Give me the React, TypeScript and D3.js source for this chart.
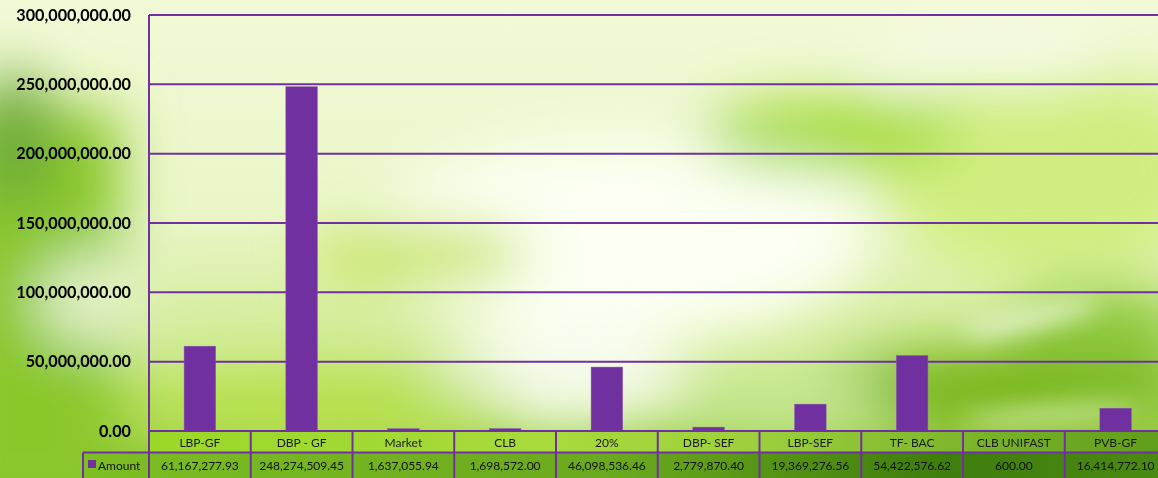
import React from "react";
import * as d3 from "d3";

const categories = ["LBP-GF", "DBP - GF", "Market", "CLB", "20%", "DBP- SEF", "LBP-SEF", "TF- BAC", "CLB UNIFAST", "PVB-GF"];
const amounts = [61167277.93, 248274509.45, 1637055.94, 1698572.0, 46098536.46, 2779870.4, 19369276.56, 54422576.62, 600.0, 16414772.1];
const seriesName = "Amount";
const yTicks = [0, 50000000, 100000000, 150000000, 200000000, 250000000, 300000000];

const W = 1158;
const H = 478;
const PURPLE = "#7030A0";

const fmt = d3.format(",.2f");

export default function App() {
  const left = 149;
  const colW = 101.75;
  const top = 15;
  const zeroY = 431;
  const rowSep = 452.5;
  const rowBottom = 480;
  const keyLeft = 83;

  const x = d3.scaleBand<string>().domain(categories).range([left, left + colW * categories.length]).paddingInner(0).paddingOuter(0);
  const y = d3.scaleLinear().domain([0, 300000000]).range([zeroY, top]);
  const barW = x.bandwidth() * 0.31;

  return (
    <svg width={W} height={H} style={{ position: "absolute", left: 0, top: 0, display: "block" }} fontFamily="Lato, 'Noto Sans', sans-serif">
      <defs>
        <linearGradient id="base" x1="0" y1="0" x2="0" y2="1">
          <stop offset="0" stopColor="#f2f9d6" />
          <stop offset="0.45" stopColor="#eaf6c8" />
          <stop offset="0.8" stopColor="#c9e886" />
          <stop offset="1" stopColor="#7fbd22" />
        </linearGradient>
        <filter id="blur" x="-20%" y="-20%" width="140%" height="140%">
          <feGaussianBlur stdDeviation="28" />
        </filter>
        <filter id="blur2" x="-20%" y="-20%" width="140%" height="140%">
          <feGaussianBlur stdDeviation="12" />
        </filter>
        <linearGradient id="catRow" x1="0" y1="0" x2="1" y2="0">
          <stop offset="0" stopColor="#9ad828" />
          <stop offset="0.4" stopColor="#a8da3c" />
          <stop offset="0.6" stopColor="#9ccf3c" />
          <stop offset="1" stopColor="#5e9c1a" />
        </linearGradient>
        <linearGradient id="amtRow" x1="0" y1="0" x2="1" y2="0">
          <stop offset="0" stopColor="#7dbe22" />
          <stop offset="0.5" stopColor="#6aa81e" />
          <stop offset="0.8" stopColor="#3f7d0c" />
          <stop offset="1" stopColor="#4a8a12" />
        </linearGradient>
        <clipPath id="clip">
          <rect x={0} y={0} width={W} height={H} />
        </clipPath>
      </defs>

      <g clipPath="url(#clip)">
        <rect x={0} y={0} width={W} height={H} fill="url(#base)" />
        <g filter="url(#blur)">
          <rect x={-60} y={110} width={180} height={410} fill="#8ac82a" />
          <ellipse cx={15} cy={140} rx={40} ry={70} fill="#6eaa3a" />
          <ellipse cx={90} cy={300} rx={55} ry={45} fill="#e4f2c8" />
          <ellipse cx={620} cy={240} rx={250} ry={105} fill="#fcfff2" />
          <ellipse cx={560} cy={380} rx={130} ry={45} fill="#f4faea" />
          <ellipse cx={420} cy={255} rx={110} ry={30} fill="#c6e45a" />
          <ellipse cx={1050} cy={170} rx={170} ry={110} fill="#d0ee80" />
          <ellipse cx={830} cy={135} rx={130} ry={35} fill="#a2da34" />
          <ellipse cx={1000} cy={55} rx={120} ry={30} fill="#f8fbe8" />
          <ellipse cx={1010} cy={390} rx={190} ry={40} fill="#74b418" />
          <ellipse cx={1100} cy={330} rx={90} ry={40} fill="#8cc83a" />
          <ellipse cx={780} cy={405} rx={110} ry={25} fill="#c8e89a" />
          <ellipse cx={320} cy={410} rx={200} ry={35} fill="#b8e048" />
        </g>
        <g filter="url(#blur2)">
          <ellipse cx={1030} cy={318} rx={70} ry={8} fill="#f2fae4" transform="rotate(-12 1030 318)" />
          <ellipse cx={1050} cy={415} rx={90} ry={7} fill="#d6f0b0" transform="rotate(-4 1050 415)" />
        </g>

        {yTicks.map((t) => (
          <line key={t} x1={left} x2={W + 20} y1={y(t)} y2={y(t)} stroke={PURPLE} strokeWidth={2} />
        ))}
        <line x1={left} x2={left} y1={top} y2={zeroY} stroke={PURPLE} strokeWidth={2} />

        {categories.map((c, i) => {
          const cx = (x(c) as number) + x.bandwidth() / 2;
          const yv = y(amounts[i]);
          return (
            <rect key={c} x={cx - barW / 2} y={yv} width={barW} height={Math.max(zeroY - yv, 0.6)} fill={PURPLE} stroke="#8a5ab4" strokeWidth={0.5} />
          );
        })}

        {yTicks.map((t) => (
          <text key={t} x={131} y={y(t) + 5.5} textAnchor="end" fontSize={16.2} fontWeight="bold" fill="#000">
            {fmt(t)}
          </text>
        ))}

        <rect x={left} y={zeroY} width={colW * categories.length} height={rowSep - zeroY} fill="url(#catRow)" />
        <rect x={keyLeft} y={rowSep} width={W - keyLeft} height={rowBottom - rowSep} fill="url(#amtRow)" />
        <line x1={left} x2={W + 20} y1={zeroY} y2={zeroY} stroke={PURPLE} strokeWidth={2} />
        <line x1={keyLeft} x2={W + 20} y1={rowSep} y2={rowSep} stroke={PURPLE} strokeWidth={2} />
        <line x1={keyLeft} x2={keyLeft} y1={rowSep} y2={rowBottom} stroke={PURPLE} strokeWidth={2} />
        {categories.map((c) => (
          <line key={c} x1={x(c) as number} x2={x(c) as number} y1={zeroY} y2={rowBottom} stroke={PURPLE} strokeWidth={2} />
        ))}
        {categories.map((c) => (
          <text key={c} x={(x(c) as number) + x.bandwidth() / 2} y={zeroY + 15.5} textAnchor="middle" fontSize={12} fill="#1a1a1a">
            {c}
          </text>
        ))}
        {categories.map((c, i) => (
          <text key={c} x={(x(c) as number) + x.bandwidth() / 2} y={rowSep + 17} textAnchor="middle" fontSize={12} fill="#111">
            {fmt(amounts[i])}
          </text>
        ))}
        <rect x={88} y={460} width={8} height={8} fill={PURPLE} />
        <text x={98} y={rowSep + 17} fontSize={12} fill="#111">
          {seriesName}
        </text>
      </g>
    </svg>
  );
}
